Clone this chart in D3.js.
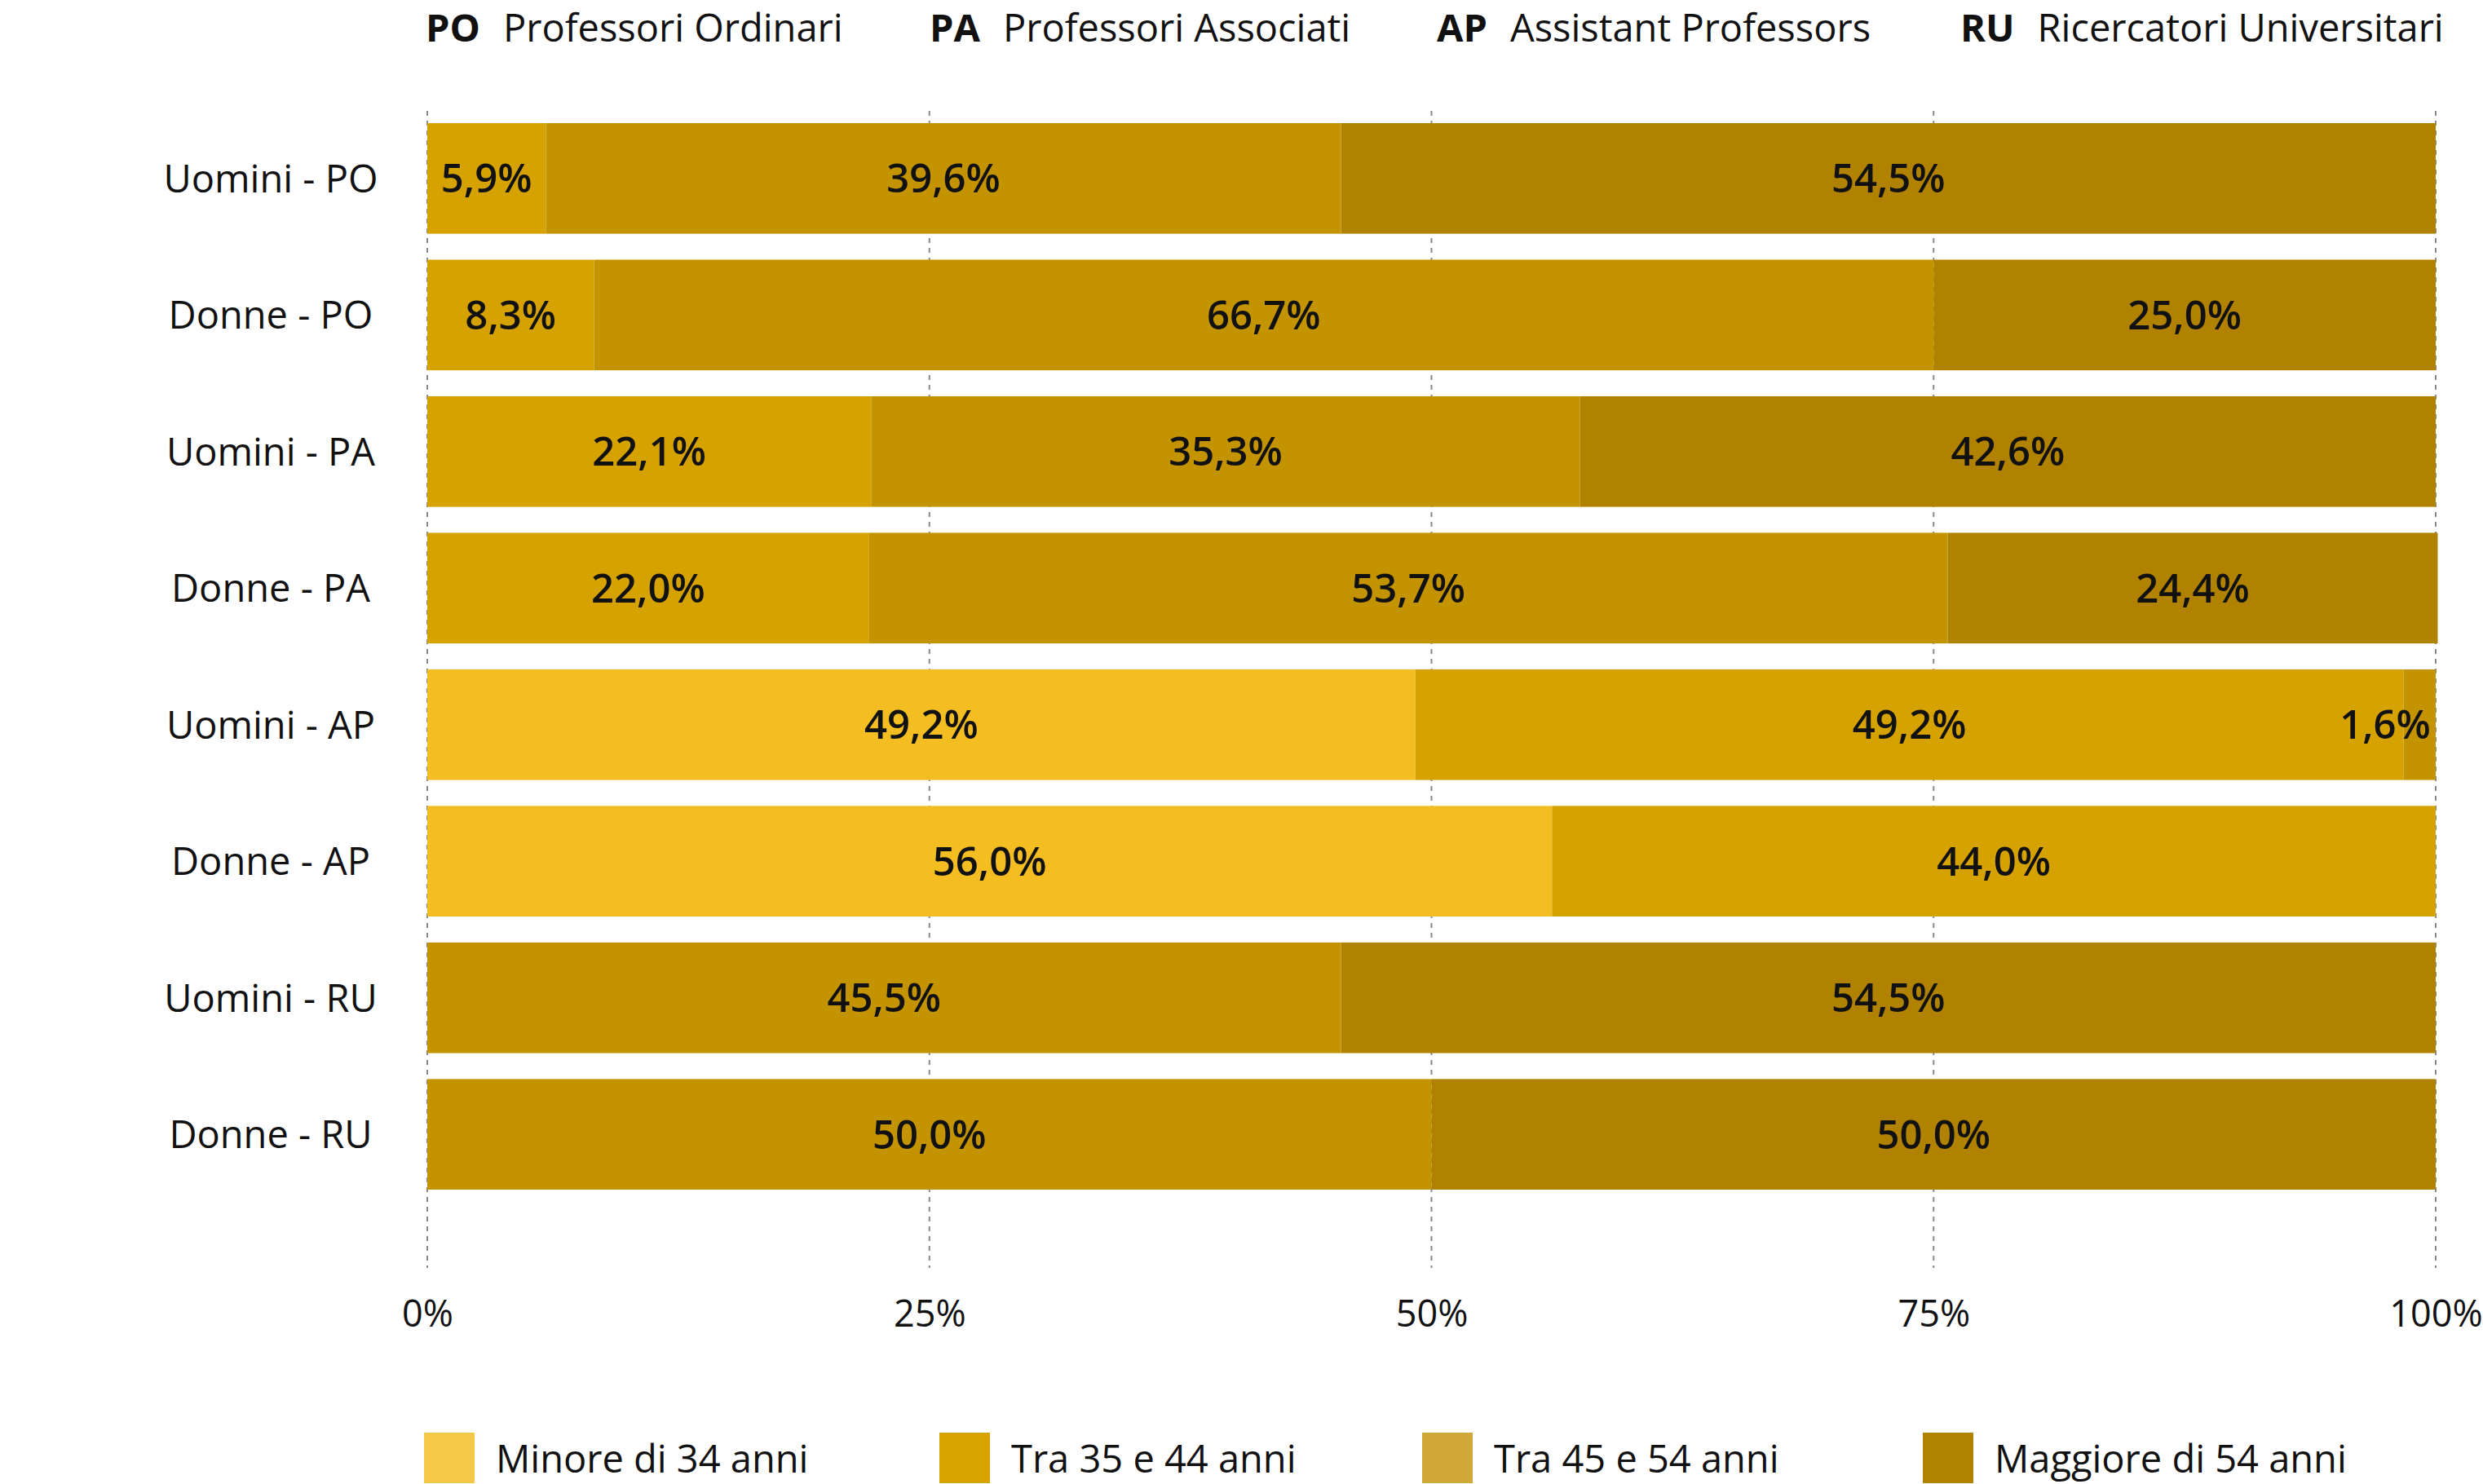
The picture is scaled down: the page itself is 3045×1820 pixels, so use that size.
<!DOCTYPE html><html><head><meta charset="utf-8">
<script src="https://cdn.jsdelivr.net/npm/d3@7"></script>
<style>body{margin:0;background:#fff}text{font-family:"Open Sans",sans-serif}</style></head><body>
<svg id="c" width="3045" height="1820"></svg>
<script>
const categories=["Uomini - PO","Donne - PO","Uomini - PA","Donne - PA","Uomini - AP","Donne - AP","Uomini - RU","Donne - RU"];
const series=["Minore di 34 anni","Tra 35 e 44 anni","Tra 45 e 54 anni","Maggiore di 54 anni"];
const minore=[0,0,0,0,49.2,56.0,0,0];
const tra3544=[5.9,8.3,22.1,22.0,49.2,44.0,0,0];
const tra4554=[39.6,66.7,35.3,53.7,1.6,0,45.5,50.0];
const maggiore=[54.5,25.0,42.6,24.4,0,0,54.5,50.0];
const ticks=[0,25,50,75,100];
const topLegend=[["PO","Professori Ordinari"],["PA","Professori Associati"],["AP","Assistant Professors"],["RU","Ricercatori Universitari"]];
const colors=["#f4bd22","#d5a200","#c39300","#b08200"];
const legendColors=["#f6c84a","#d6a300","#cfa838","#b08200"];
const vals=[minore,tra3544,tra4554,maggiore];
const svg=d3.select("#c");
const x=d3.scaleLinear().domain([0,100]).range([524,2987]);
const y=d3.scaleBand().domain(categories).range([151,1459]).paddingInner(0.19).paddingOuter(0);
svg.append("g").selectAll("line").data(ticks).join("line").attr("x1",d=>x(d)).attr("x2",d=>x(d))
 .attr("y1",136).attr("y2",1555).attr("stroke","#8a8a8a").attr("stroke-width",2).attr("stroke-dasharray","6,6");
const rows=categories.map((c,i)=>{let acc=0;return series.map((s,j)=>{const v=vals[j][i];const o={c,j,v,x0:acc,x1:acc+v};acc+=v;return o;});}).flat().filter(d=>d.v>0);
svg.append("g").selectAll("rect").data(rows).join("rect").attr("x",d=>x(d.x0)).attr("width",d=>x(d.x1)-x(d.x0))
 .attr("y",d=>y(d.c)).attr("height",y.bandwidth()).attr("fill",d=>colors[d.j]);
svg.append("g").selectAll("text").data(rows).join("text")
 .attr("x",d=>Math.min((x(d.x0)+x(d.x1))/2, 2987-62)).attr("y",d=>y(d.c)+y.bandwidth()/2)
 .attr("dy","0.36em").attr("text-anchor","middle").attr("font-size",49).attr("font-weight",600).attr("fill","#111")
 .text(d=>d.v.toFixed(1).replace(".",",")+"%");
svg.append("g").selectAll("text").data(categories).join("text").attr("x",332).attr("y",d=>y(d)+y.bandwidth()/2)
 .attr("dy","0.36em").attr("text-anchor","middle").attr("font-size",47).attr("fill","#111").text(d=>d);
const ax=svg.append("g").attr("transform","translate(0,1592)").call(d3.axisBottom(x).tickValues(ticks).tickSize(0).tickFormat(d=>d+"%"));
ax.select(".domain").remove();
ax.selectAll("text").attr("font-size",45).attr("fill","#111").attr("font-family","Open Sans");
const tl=[522,1140,1762,2404];
topLegend.forEach((d,i)=>{const t=svg.append("text").attr("x",tl[i]).attr("y",51).attr("font-size",47).attr("fill","#111");
 t.append("tspan").attr("font-weight",700).text(d[0]);t.append("tspan").attr("dx",28).text(d[1]);});
const bl=[520,1152,1744,2358];
series.forEach((s,i)=>{svg.append("rect").attr("x",bl[i]).attr("y",1757).attr("width",62).attr("height",62).attr("fill",legendColors[i]);
 svg.append("text").attr("x",bl[i]+88).attr("y",1806).attr("font-size",47).attr("fill","#111").text(s);});
</script></body></html>
